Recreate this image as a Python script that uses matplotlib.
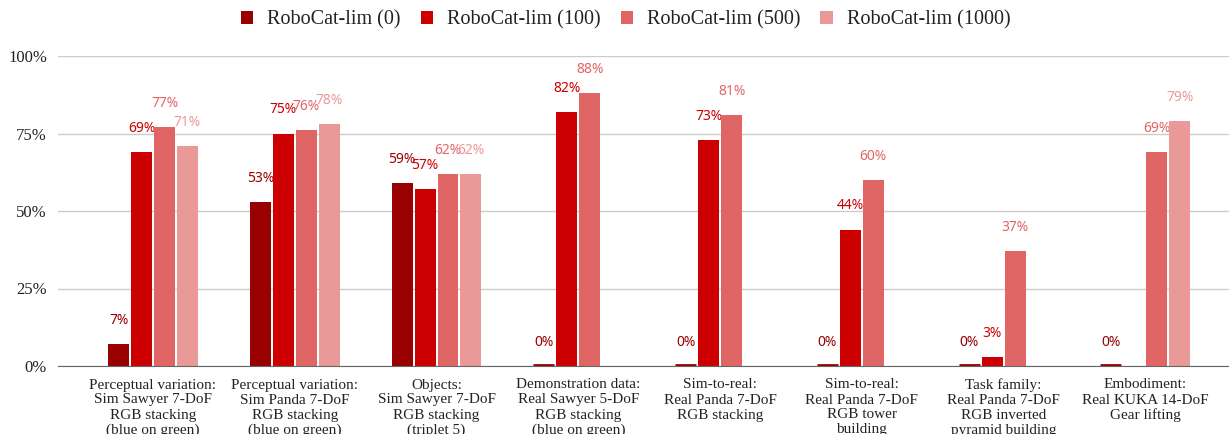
import numpy as np
import matplotlib.pyplot as plt

# Data
categories = [
    "Perceptual variation:\nSim Sawyer 7-DoF\nRGB stacking\n(blue on green)",
    "Perceptual variation:\nSim Panda 7-DoF\nRGB stacking\n(blue on green)",
    "Objects:\nSim Sawyer 7-DoF\nRGB stacking\n(triplet 5)",
    "Demonstration data:\nReal Sawyer 5-DoF\nRGB stacking\n(blue on green)",
    "Sim-to-real:\nReal Panda 7-DoF\nRGB stacking",
    "Sim-to-real:\nReal Panda 7-DoF\nRGB tower\nbuilding",
    "Task family:\nReal Panda 7-DoF\nRGB inverted\npyramid building",
    "Embodiment:\nReal KUKA 14-DoF\nGear lifting",
]
series_names = ["RoboCat-lim (0)", "RoboCat-lim (100)", "RoboCat-lim (500)", "RoboCat-lim (1000)"]
lim_0 = [7, 53, 59, 0, 0, 0, 0, 0]
lim_100 = [69, 75, 57, 82, 73, 44, 3, np.nan]
lim_500 = [77, 76, 62, 88, 81, 60, 37, 69]
lim_1000 = [71, 78, 62, np.nan, np.nan, np.nan, np.nan, 79]
series = [lim_0, lim_100, lim_500, lim_1000]
colors = ["#990000", "#cc0000", "#e06666", "#ea9999"]

SERIF = "Liberation Serif"

fig = plt.figure(figsize=(12.29, 4.34), dpi=100)
ax = fig.add_axes([58 / 1229, 1 - 366 / 434, 1 - 58 / 1229, 310 / 434])

x = np.arange(len(categories))
step = 0.162
width = 0.148

for i, (vals, name, col) in enumerate(zip(series, series_names, colors)):
    pos = x + (i - 1.5) * step
    v = np.array(vals, dtype=float)
    ax.bar(pos, v, width=width, color=col, label=name, zorder=3)
    for p, val in zip(pos, v):
        if np.isnan(val):
            continue
        if val == 0:
            # thin line for zero values
            ax.plot([p - width / 2, p + width / 2], [0.2, 0.2], color=col, lw=2, zorder=4,
                    solid_capstyle="butt")
        ax.annotate(f"{int(val)}%", (p, val), xytext=(0, 17), textcoords="offset points",
                    ha="center", va="center", color=col, fontsize=10,
                    family="Noto Sans", clip_on=False)

ax.set_xlim(-0.67, 7.59)
ax.set_ylim(0, 100)
ax.set_yticks([0, 25, 50, 75, 100])
ax.set_yticklabels(["0%", "25%", "50%", "75%", "100%"], family=SERIF, fontsize=12, color="#222222")
ax.set_xticks(x)
ax.set_xticklabels(categories, family=SERIF, fontsize=11, color="#222222", linespacing=1.2, va="top")
ax.tick_params(axis="both", length=0)
ax.tick_params(axis="x", pad=9)
ax.tick_params(axis="y", pad=8)

ax.grid(axis="y", color="#cccccc", lw=1, zorder=0)
for s in ["top", "right", "left"]:
    ax.spines[s].set_visible(False)
ax.spines["bottom"].set_color("#666666")
ax.spines["bottom"].set_zorder(5)

leg = fig.legend(loc="center", bbox_to_anchor=(0.509, 1 - 20 / 434), ncol=4, frameon=False,
                 prop={"family": SERIF, "size": 14.5}, handlelength=0.6, handleheight=0.6,
                 handletextpad=0.7, columnspacing=1.0)
for t in leg.get_texts():
    t.set_color("#222222")

plt.savefig("out.png", dpi=100)
